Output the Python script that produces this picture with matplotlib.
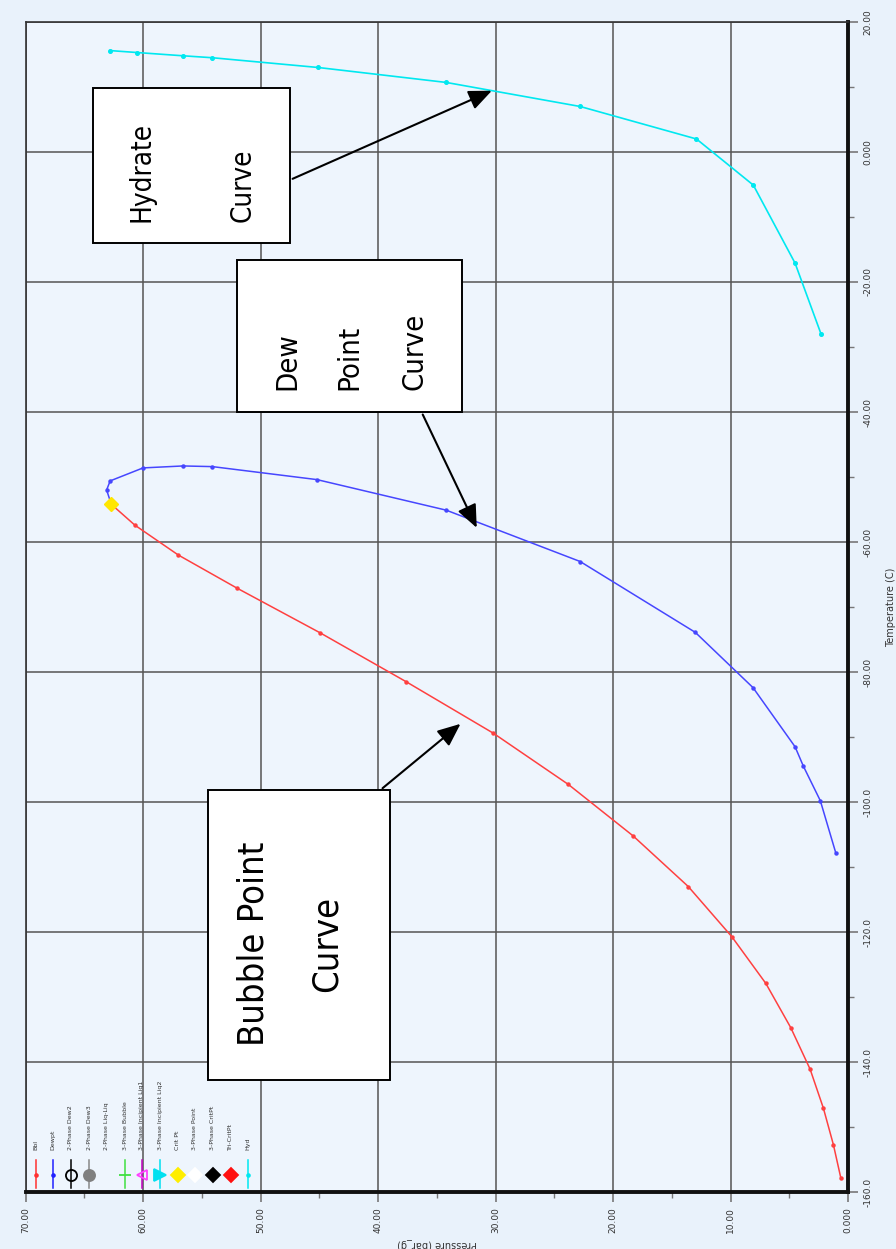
import matplotlib.pyplot as plt
from matplotlib.patches import Rectangle
from matplotlib.lines import Line2D

# phase envelope data (pressure bar_g, temperature C)
bubble_p = [62.7, 60.7, 57.0, 52.0, 44.9, 37.6, 30.2, 23.8, 18.3, 13.6, 9.9, 7.0, 4.88, 3.23, 2.10, 1.25, 0.62]
bubble_t = [-54.2, -57.4, -62.0, -67.1, -74.0, -81.5, -89.4, -97.3, -105.2, -113.0, -120.7, -127.9, -134.7, -141.1, -147.1, -152.7, -157.8]

dew_p = [62.7, 63.1, 62.8, 60.0, 56.6, 54.1, 45.2, 34.2, 22.8, 13.0, 8.09, 4.51, 3.80, 2.36, 1.05]
dew_t = [-54.2, -52.0, -50.6, -48.6, -48.3, -48.4, -50.4, -55.1, -63.0, -73.9, -82.4, -91.5, -94.5, -99.8, -107.8]

hyd_p = [62.8, 60.5, 56.6, 54.1, 45.1, 34.2, 22.8, 12.9, 8.06, 4.51, 2.30]
hyd_t = [15.6, 15.3, 14.8, 14.5, 13.0, 10.7, 7.0, 2.0, -5.1, -17.1, -28.0]

crit_p = [62.7]
crit_t = [-54.2]

p_ticks = [70, 60, 50, 40, 30, 20, 10, 0]
p_labels = ["70.00", "60.00", "50.00", "40.00", "30.00", "20.00", "10.00", "0.000"]
t_ticks = [20, 0, -20, -40, -60, -80, -100, -120, -140, -160]
t_labels = ["20.00", "0.000", "-20.00", "-40.00", "-60.00", "-80.00", "-100.0", "-120.0", "-140.0", "-160.0"]

legend_names = ["Bbl", "Dewpt", "2-Phase Dew2", "2-Phase Dew3", "2-Phase Liq-Liq", "3-Phase Bubble",
                "3-Phase Incipient Liq1", "3-Phase Incipient Liq2", "Crit Pt", "3-Phase Point",
                "3-Phase CritPt", "Tri-CritPt", "Hyd"]

bg = "#e9f2fb"
fig = plt.figure(figsize=(8.96, 12.49), dpi=100, facecolor=bg)
ax = fig.add_axes([0.0285, 0.0456, 0.918, 0.9368])
ax.set_facecolor("#eef5fd")

ax.set_xlim(70, 0)
ax.set_ylim(-160, 20)

# curves
ax.plot(bubble_p, bubble_t, color="#ff4040", lw=1.1, marker="o", ms=2.2, zorder=3)
ax.plot(dew_p, dew_t, color="#4646ff", lw=1.1, marker="o", ms=2.2, zorder=3)
ax.plot(hyd_p, hyd_t, color="#00e8f0", lw=1.2, marker="o", ms=2.6, zorder=3)
ax.plot(crit_p, crit_t, color="#ffe600", marker="D", ms=7, ls="none", zorder=4)

# grid / ticks
ax.set_xticks(p_ticks)
ax.set_xticklabels(p_labels, rotation=90, fontsize=6.5, color="#333333")
ax.set_xticks([65, 55, 45, 35, 25, 15, 5], minor=True)
ax.yaxis.tick_right()
ax.yaxis.set_label_position("right")
ax.set_yticks(t_ticks)
ax.set_yticklabels(t_labels, rotation=90, fontsize=6.5, color="#333333", va="center")
ax.set_yticks([10, -10, -30, -50, -70, -90, -110, -130, -150], minor=True)
ax.tick_params(which="major", direction="out", length=7, width=1.2, color="#777777", pad=4)
ax.tick_params(which="minor", direction="out", length=4, width=1.0, color="#777777")
ax.grid(True, which="major", color="#555555", lw=1.3, alpha=0.85)
ax.set_axisbelow(True)

for side in ["top", "left"]:
    ax.spines[side].set_linewidth(1.2)
    ax.spines[side].set_color("#333333")
for side in ["bottom", "right"]:
    ax.spines[side].set_linewidth(2.8)
    ax.spines[side].set_color("#111111")

ax.set_xlabel("Pressure (bar_g)", rotation=180, fontsize=7, color="#333333", labelpad=4)
ax.set_ylabel("Temperature (C)", rotation=90, fontsize=7, color="#333333", labelpad=10)

# annotation boxes
def box(p0, p1, t0, t1):
    ax.add_patch(Rectangle((p1, t1), p0 - p1, t0 - t1, facecolor="white",
                           edgecolor="black", lw=1.4, zorder=5))

def label(p, t, s, size, va="center"):
    ax.text(p, t, s, rotation=90, ha="center", va=va, fontsize=size,
            family="DejaVu Sans", fontstretch="condensed", zorder=6)

def arrow(p0, t0, p1, t1):
    ax.annotate("", xy=(p1, t1), xytext=(p0, t0), zorder=6,
                arrowprops=dict(arrowstyle="-|>,head_length=1.4,head_width=0.6",
                                color="black", lw=1.5))

box(64.26, 47.49, 9.85, -14.0)
label(60.1, -10.8, "Hydrate", 20, va="bottom")
label(51.5, -10.8, "Curve", 20, va="bottom")
arrow(47.49, -4.3, 30.1, 9.6)

box(52.0, 32.85, -16.6, -40.0)
label(47.7, -36.6, "Dew", 21, va="bottom")
label(42.4, -36.6, "Point", 21, va="bottom")
label(36.9, -36.6, "Curve", 21, va="bottom")
arrow(36.3, -40.0, 31.5, -58.2)

box(54.47, 38.98, -98.15, -142.8)
label(50.6, -121.8, "Bubble Point", 26)
label(44.4, -121.8, "Curve", 26)
arrow(39.8, -98.15, 32.8, -87.7)

# legend drawn as vertical entries in the lower-left corner
leg_x = [0.0124, 0.0331, 0.055, 0.0776, 0.0987, 0.121, 0.1413, 0.1635, 0.185, 0.206, 0.2276, 0.2495, 0.2709]
leg_line = ["#ff3030", "#2020ff", "black", "#888888", None, "#40e040", "#c000c0", "#00e0f0",
            None, None, None, None, "#00e8f0"]
leg_mk = [("o", "#ff3030", "#ff3030", 2), ("o", "#2020ff", "#2020ff", 2), ("o", "none", "black", 8),
          ("o", "#808080", "#808080", 8), None, ("_", "#40e040", "#40e040", 9),
          ("<", "none", "#ff40ff", 7), (">", "#00e0f0", "#00e0f0", 8), ("D", "#ffee00", "#ffee00", 7),
          ("D", "white", "white", 7), ("D", "black", "black", 7), ("D", "#ff1010", "#ff1010", 7),
          ("o", "#00e8f0", "#00e8f0", 2)]
for xx, name, lc, mk in zip(leg_x, legend_names, leg_line, leg_mk):
    if lc:
        ax.add_line(Line2D([xx, xx], [0.0034, 0.0274], color=lc, lw=1.1,
                           transform=ax.transAxes, zorder=4, clip_on=False))
    if mk:
        ax.plot([xx], [0.0145], marker=mk[0], mfc=mk[1], mec=mk[2], ms=mk[3], mew=1.3,
                transform=ax.transAxes, zorder=5, clip_on=False)
    ax.text(xx, 0.036, name, rotation=90, ha="center", va="bottom", fontsize=4.5,
            color="#333333", transform=ax.transAxes)

fig.savefig("out.png", dpi=100, facecolor=bg)
